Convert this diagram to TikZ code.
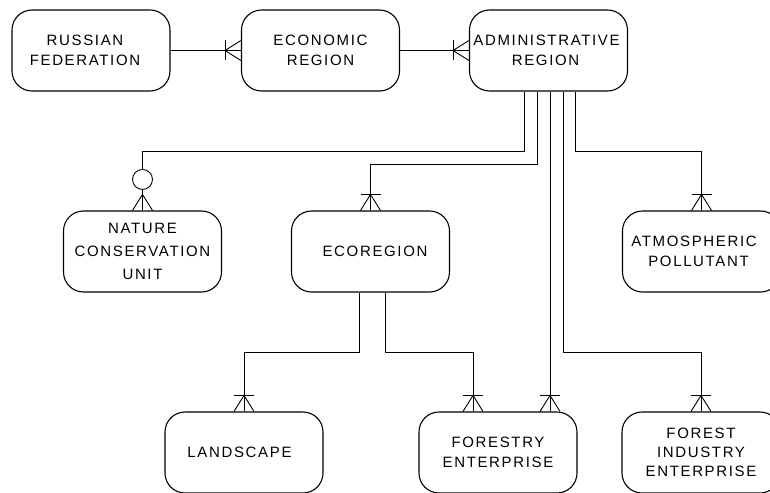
\documentclass[tikz,border=0pt]{standalone}
\usepackage{fontspec}
\setmainfont{Liberation Sans}[LetterSpace=11]
\begin{document}
\begin{tikzpicture}[x=1pt,y=-1pt,
  ent/.style={draw,line width=1.1pt,rounded corners=20pt,minimum width=158pt,
    minimum height=81pt,align=center,inner sep=0pt,font=\fontsize{15}{20}\selectfont},
  conn/.style={line width=0.9pt},
  crowv/.pic={\draw[conn] (-10,-16)--(10,-16); \draw[conn] (-10,0)--(0,-16)--(10,0);},
  crowh/.pic={\draw[conn] (-16,-10)--(-16,10); \draw[conn] (0,-10)--(-16,0)--(0,10);}
]
\useasboundingbox (0,0) rectangle (770,492);
\clip (0,0) rectangle (770,492);
\fill[white] (0,0) rectangle (770,492);

% entities
\node[ent] (rf)   at (91,50.5)    {RUSSIAN\hspace*{12pt}\\FEDERATION\hspace*{12pt}};
\node[ent] (er)   at (320.5,50.5) {ECONOMIC\\REGION};
\node[ent] (ar)   at (548.5,50.5) {ADMINISTRATIVE\hspace*{4pt}\\REGION\hspace*{6pt}};
\node[ent,font=\fontsize{15}{23}\selectfont] (ncu) at (142.5,251.5) {NATURE\\CONSERVATION\\UNIT};
\node[ent] (eco)  at (370.5,251.5) {\hspace*{9pt}ECOREGION};
\node[ent] (ap)   at (701.5,251.5) {ATMOSPHERIC\hspace*{15pt}\\POLLUTANT\hspace*{6pt}};
\node[ent] (land) at (244,452.5)  {LANDSCAPE\hspace*{9pt}};
\node[ent] (fe)   at (498,452.5)  {FORESTRY\\ENTERPRISE};
\node[ent,font=\fontsize{15}{19}\selectfont] (fie) at (701,452.5) {FOREST\\INDUSTRY\\ENTERPRISE};

% connector end points on the boxes
\coordinate (a1) at ([xshift=-24.5pt]ar.south);
\coordinate (a2) at ([xshift=-11.5pt]ar.south);
\coordinate (a3) at ([xshift=1.5pt]ar.south);
\coordinate (a4) at ([xshift=14.5pt]ar.south);
\coordinate (a5) at ([xshift=26.5pt]ar.south);
\coordinate (e1) at ([xshift=-11.5pt]eco.south);
\coordinate (e2) at ([xshift=14.5pt]eco.south);
\coordinate (f1) at ([xshift=-25pt]fe.north);

% top row
\draw[conn] (rf.east) -- (er.west) pic{crowh};
\draw[conn] (er.east) -- (ar.west) pic{crowh};

% from administrative region
\draw[conn] (a1) |- (ncu.north |- 0,151) -- (ncu.north);
\draw[conn,fill=white] (ncu.north) ++(0,-31) circle[radius=10pt];
\draw[conn] (ncu.north) ++(-10,0) -- ++(10,-16) -- ++(10,16);
\draw[conn] (a2) |- (eco.north |- 0,164) -- (eco.north) pic{crowv};
\draw[conn] (a3) -- (a3 |- fe.north) pic{crowv};
\draw[conn] (a4) |- (fie.north |- 0,352) -- (fie.north) pic{crowv};
\draw[conn] (a5) |- (ap.north |- 0,151) -- (ap.north) pic{crowv};

% from ecoregion
\draw[conn] (e1) |- (land.north |- 0,352) -- (land.north) pic{crowv};
\draw[conn] (e2) |- (f1 |- 0,352) -- (f1) pic{crowv};
\end{tikzpicture}
\end{document}
